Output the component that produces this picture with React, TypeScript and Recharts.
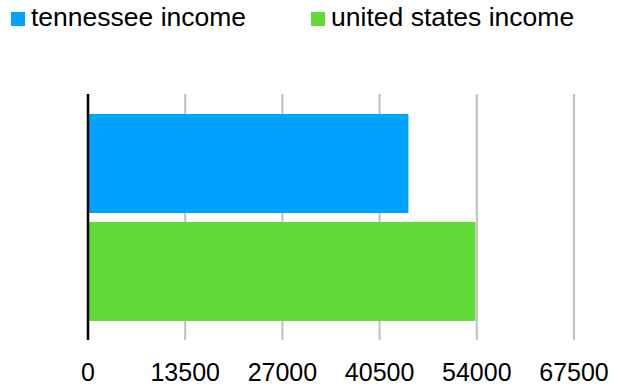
import React from 'react';
import { BarChart, Bar, XAxis, YAxis, CartesianGrid, Legend, ReferenceLine } from 'recharts';

document.body.style.margin = '0';

const categories = ['income'];
const tennesseeIncome = [44500];
const unitedStatesIncome = [53800];
const xTicks = [0, 13500, 27000, 40500, 54000, 67500];

const seriesNames = ['tennessee income', 'united states income'];
const seriesColors = ['#00A2FF', '#62DA37'];

const data = categories.map((name, i) => ({
  name,
  tennessee: tennesseeIncome[i],
  unitedStates: unitedStatesIncome[i],
}));

const FONT = '"Liberation Sans", Arial, sans-serif';

// legend drawn as plain html so spacing matches the reference
const LegendContent = () => (
  <div style={{ display: 'flex', alignItems: 'center', width: 617, height: 34, lineHeight: '34px', fontFamily: FONT, fontSize: 26.5, color: '#000', whiteSpace: 'nowrap' }}>
    {seriesNames.map((n, i) => (
      <div key={n} style={{ display: 'flex', alignItems: 'center', flexShrink: 0, marginLeft: i === 0 ? 11 : 65 }}>
        <span style={{ display: 'inline-block', width: 14, height: 14, background: seriesColors[i], marginRight: 6, position: 'relative', top: 2 }} />
        <span>{n}</span>
      </div>
    ))}
  </div>
);

export default function App() {
  return (
    <div style={{ width: 617, height: 391 }}>
      <BarChart
        width={617}
        height={391}
        data={data}
        layout="vertical"
        margin={{ top: 60, right: 43, left: 88, bottom: 0 }}
        barGap={9}
      >
        <CartesianGrid horizontal={false} stroke="#BFBFBF" strokeWidth={2} />
        <XAxis
          type="number"
          domain={[0, 67500]}
          ticks={xTicks}
          axisLine={false}
          tickLine={false}
          tickMargin={17}
          height={51}
          interval={0}
          tick={{ fill: '#000', fontSize: 25, fontFamily: FONT }}
        />
        <YAxis type="category" dataKey="name" hide />
        <Legend
          verticalAlign="top"
          align="left"
          content={<LegendContent />}
          wrapperStyle={{ top: 0, left: 0, width: 617, height: 34 }}
        />
        <Bar dataKey="tennessee" name={seriesNames[0]} fill={seriesColors[0]} barSize={99} isAnimationActive={false} />
        <Bar dataKey="unitedStates" name={seriesNames[1]} fill={seriesColors[1]} barSize={99} isAnimationActive={false} />
        <ReferenceLine x={0} stroke="#000" strokeWidth={2.5} />
      </BarChart>
    </div>
  );
}
